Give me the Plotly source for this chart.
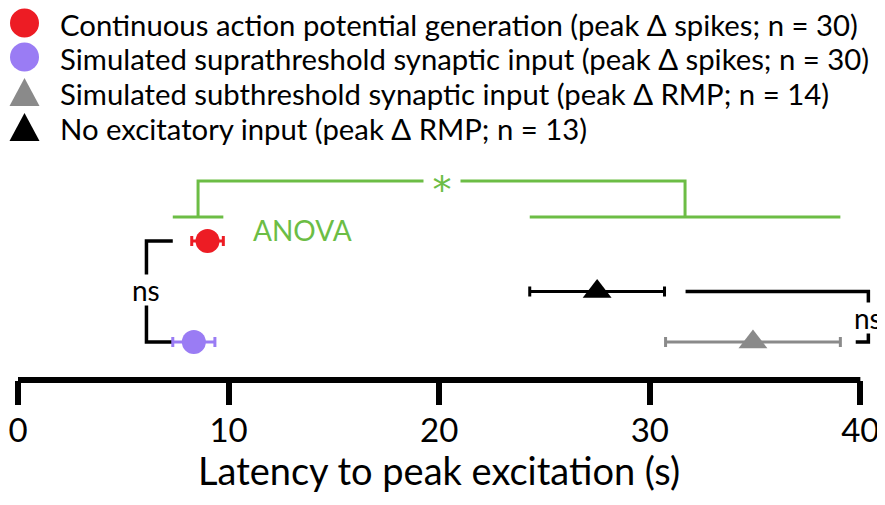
import plotly.graph_objects as go

# groups, top of the legend first
labels = [
    "Continuous action potential generation (peak Δ spikes; n = 30)",
    "Simulated suprathreshold synaptic input (peak Δ spikes; n = 30)",
    "Simulated subthreshold synaptic input (peak Δ RMP; n = 14)",
    "No excitatory input (peak Δ RMP; n = 13)",
]
latency_mean = [9.0, 8.35, 34.9, 27.5]
latency_sem = [0.75, 1.0, 4.15, 3.2]
row = [2, 0, 0, 1]
symbols = ["circle", "circle", "triangle-up", "triangle-up"]
colors = ["#ed1c24", "#9a7cf4", "#8a8a8a", "#000000"]

x_ticks = [0, 10, 20, 30, 40]
x_title = "Latency to peak excitation (s)"
anova_text = "ANOVA"
star_text = "*"
ns_text = "ns"

FONT = "Lato, sans-serif"
GREEN = "#6cbd45"
PAGE = 8  # the page body keeps its default 8px margin
W, H = 885 - PAGE, 505 - PAGE
L, T, B = 18 - PAGE, 160 - PAGE, 125
X_MAX = 40.6  # a little room right of 40 for the ns bracket
plot_w = (860 - 18) / 40 * X_MAX
R = W - L - plot_w
plot_h = H - T - B


def paper_x(px):
    # px measured on the 885x505 screen
    return (px - PAGE - L) / plot_w


def paper_y(py):
    return (H - B - (py - PAGE)) / plot_h


fig = go.Figure()

lo = [m - s for m, s in zip(latency_mean, latency_sem)]
hi = [m + s for m, s in zip(latency_mean, latency_sem)]

# significance brackets, drawn first so the points sit on top
circles = [i for i, s in enumerate(symbols) if s == "circle"]
triangles = [i for i, s in enumerate(symbols) if s != "circle"]
left_lo, left_hi = min(lo[i] for i in circles), max(hi[i] for i in circles)
right_lo, right_hi = min(lo[i] for i in triangles), max(hi[i] for i in triangles)
left_mid = (left_lo + left_hi) / 2
right_mid = (right_lo + right_hi) / 2
stub_y, top_y = 2.475, 3.19

fig.add_trace(go.Scatter(
    x=[left_lo, left_hi, None, left_mid, left_mid, right_mid, right_mid, None,
       right_lo, right_hi],
    y=[stub_y, stub_y, None, stub_y, top_y, top_y, stub_y, None, stub_y, stub_y],
    mode="lines", line={"color": GREEN, "width": 3},
    hoverinfo="skip", showlegend=False,
))

ns_left_x = lo[1] - 1.25
ns_right_x = max(x_ticks) + 0.38
fig.add_trace(go.Scatter(
    x=[lo[1], ns_left_x, ns_left_x, lo[1], None,
       hi[3] + 1.0, ns_right_x, ns_right_x, ns_right_x - 0.6],
    y=[row[0], row[0], row[1], row[1], None,
       row[3], row[3], row[2], row[2]],
    mode="lines", line={"color": "black", "width": 3.5},
    hoverinfo="skip", showlegend=False,
))

for i in range(len(labels)):
    fig.add_trace(go.Scatter(
        x=[latency_mean[i]], y=[row[i]],
        error_x={"type": "data", "array": [latency_sem[i]], "color": colors[i],
                 "thickness": 3, "width": 5},
        mode="markers",
        marker={"symbol": symbols[i], "color": colors[i],
                "size": 24 if symbols[i] == "circle" else 25},
        name=labels[i], showlegend=False, cliponaxis=False,
    ))

# statistics labels
fig.add_annotation(x=(left_mid + right_mid) / 2, y=top_y, text=star_text,
                   showarrow=False, bgcolor="white", width=34, height=30,
                   yshift=-9, font={"family": "DejaVu Sans", "size": 38, "color": GREEN})
fig.add_annotation(x=left_hi + 1.3, y=2.21, text=anova_text, showarrow=False,
                   xanchor="left", font={"family": FONT, "size": 28, "color": GREEN})
fig.add_annotation(x=ns_left_x, y=1.03, text=ns_text, showarrow=False,
                   bgcolor="white", height=28,
                   font={"family": FONT, "size": 28, "color": "black"})
fig.add_annotation(x=ns_right_x, y=0.475, text=ns_text, showarrow=False,
                   bgcolor="white", height=28,
                   font={"family": FONT, "size": 28, "color": "black"})

# x axis baseline only from 0 to 40, the ticks come from the axis itself
fig.add_shape(type="line", xref="x", yref="paper", x0=min(x_ticks), x1=max(x_ticks),
              y0=0, y1=0, line={"color": "black", "width": 6})
fig.add_annotation(x=(min(x_ticks) + max(x_ticks)) / 2, xref="x", yref="paper",
                   y=paper_y(470), yanchor="middle", text=x_title, showarrow=False,
                   font={"family": FONT, "size": 38, "color": "black"})

# legend drawn by hand so the keys keep their size
legend_rows = [23, 57, 92, 127]
key_x = paper_x(24.5)
for i, label in enumerate(labels):
    ky = paper_y(legend_rows[i])
    if symbols[i] == "circle":
        fig.add_shape(type="circle", xref="paper", yref="paper",
                      xsizemode="pixel", ysizemode="pixel",
                      xanchor=key_x, yanchor=ky, x0=-14.5, x1=14.5, y0=-14.5, y1=14.5,
                      fillcolor=colors[i], line={"width": 0})
    else:
        fig.add_shape(type="path", xref="paper", yref="paper",
                      xsizemode="pixel", ysizemode="pixel",
                      xanchor=key_x, yanchor=ky,
                      path="M -15,-14 L 15,-14 L 0,14 Z",
                      fillcolor=colors[i], line={"width": 0})
    fig.add_annotation(xref="paper", yref="paper", x=paper_x(58),
                       y=paper_y(legend_rows[i] + 1.5),
                       xanchor="left", yanchor="middle", text=label,
                       showarrow=False,
                       font={"family": FONT, "size": 29.3, "color": "black"})

fig.update_layout(
    width=W, height=H,
    margin={"l": L, "r": R, "t": T, "b": B, "autoexpand": False},
    plot_bgcolor="white", paper_bgcolor="white",
    showlegend=False,
    font={"family": FONT, "color": "black"},
)
fig.update_xaxes(
    range=[0, X_MAX], tickvals=x_ticks, ticks="outside", ticklen=24, tickwidth=6,
    tickcolor="black", showline=False, automargin=False,
    showgrid=False, zeroline=False, tickfont={"size": 33, "family": FONT},
    ticklabelstandoff=-3,
)
fig.update_yaxes(range=[-0.752, 3.604], visible=False, automargin=False)

fig.write_html("out.html")
